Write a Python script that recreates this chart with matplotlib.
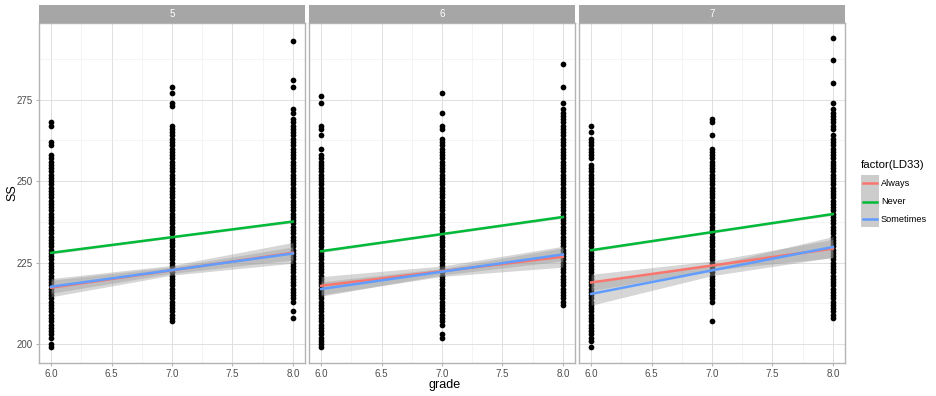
import numpy as np
import matplotlib
matplotlib.use("Agg")
import matplotlib.pyplot as plt
from matplotlib.patches import Rectangle
from matplotlib.lines import Line2D

plt.rcParams["font.family"] = ["Liberation Sans", "DejaVu Sans"]

# ---- data ----
facets = ["5", "6", "7"]
grades = [6.0, 7.0, 8.0]

# dense block of integer SS scores per facet / grade (lo, hi)
dense_lo = [[202, 209, 213], [199, 208, 212], [201, 214, 208]]
dense_hi = [[258, 267, 269], [258, 263, 272], [255, 260, 264]]
# isolated scores outside the dense block
outliers = [
    [[199, 200, 261, 262, 267, 268], [207, 208, 273, 274, 277, 279], [208, 210, 271, 272, 279, 281, 293]],
    [[260, 264, 266, 267, 274, 276], [202, 203, 206, 207, 266, 267, 271, 277], [274, 279, 286]],
    [[199, 257, 258, 259, 260, 261, 262, 263, 265, 267], [207, 213, 264, 268, 269],
     [266, 267, 268, 269, 270, 271, 272, 274, 280, 287, 294]],
]

groups = ["Always", "Never", "Sometimes"]
group_colors = ["#F8766D", "#00BA38", "#619CFF"]
# fitted SS at grade 6 and grade 8, per facet
always_fit = [[217.3, 228.0], [217.9, 226.8], [218.9, 229.3]]
never_fit = [[228.0, 237.6], [228.5, 239.0], [228.8, 239.9]]
sometimes_fit = [[217.6, 227.8], [216.9, 227.5], [215.4, 229.8]]
# half width of confidence band at grade 6, 7, 8
always_se = [[2.8, 1.5, 3.2], [2.8, 1.6, 3.2], [2.5, 1.4, 2.8]]
never_se = [[0.4, 0.3, 0.4], [0.4, 0.3, 0.4], [0.4, 0.3, 0.4]]
sometimes_se = [[2.0, 1.0, 2.0], [2.2, 1.0, 2.0], [3.5, 1.6, 3.2]]

fits = [always_fit, never_fit, sometimes_fit]
ses = [always_se, never_se, sometimes_se]

# ---- figure ----
W, H = 936, 396
fig = plt.figure(figsize=(W / 100, H / 100), dpi=100)

def fx(px):
    return px / W

def fy(py):
    return 1 - py / H

panel_left = [39, 309, 579]
panel_w = 266
panel_top, panel_bot = 23, 363
strip_top = 5

border_col = "#B3B3B3"
grid_col = "#E0E0E0"
text_col = "#4D4D4D"

for i, fac in enumerate(facets):
    ax = fig.add_axes([fx(panel_left[i]), fy(panel_bot), fx(panel_w), (panel_bot - panel_top) / H])
    ax.set_xlim(5.9, 8.1)
    ax.set_ylim(194.2, 298.5)
    ax.set_xticks([6.0, 6.5, 7.0, 7.5, 8.0])
    ax.set_xticklabels(["6.0", "6.5", "7.0", "7.5", "8.0"])
    ax.set_xticks([6.25, 6.75, 7.25, 7.75], minor=True)
    ax.set_yticks([200, 225, 250, 275])
    ax.set_yticks([212.5, 237.5, 262.5, 287.5], minor=True)
    ax.grid(True, which="major", color=grid_col, linewidth=0.7, zorder=0)
    ax.grid(True, which="minor", color="#F0F0F0", linewidth=0.5, zorder=0)
    ax.set_axisbelow(True)
    for s in ax.spines.values():
        s.set_color(border_col)
        s.set_linewidth(1.0)
    ax.tick_params(which="both", length=0, labelsize=7, colors=text_col, pad=2)
    ax.tick_params(axis="both", which="major", length=2.5, color=border_col)
    if i > 0:
        ax.set_yticklabels([])
        ax.tick_params(axis="y", which="major", length=0)

    # points
    for j, g in enumerate(grades):
        vals = list(np.arange(dense_lo[i][j], dense_hi[i][j] + 1)) + outliers[i][j]
        ax.scatter([g] * len(vals), vals, s=17, color="black", linewidths=0, zorder=2)

    # confidence bands then lines
    for k in range(len(groups)):
        lo6, hi8 = fits[k][i]
        mid = (lo6 + hi8) / 2
        centre = np.array([lo6, mid, hi8])
        half = np.array(ses[k][i])
        ax.fill_between(grades, centre - half, centre + half, color="#999999",
                        alpha=0.4, linewidth=0, zorder=3)
    for k in range(len(groups)):
        ax.plot([6.0, 8.0], fits[k][i], color=group_colors[k], linewidth=1.8, zorder=4)

    # strip
    sax = fig.add_axes([fx(panel_left[i]), fy(panel_top), fx(panel_w), (panel_top - strip_top) / H])
    sax.set_facecolor("#A6A6A6")
    sax.set_xticks([])
    sax.set_yticks([])
    for s in sax.spines.values():
        s.set_visible(False)
    sax.text(0.5, 0.5, fac, color="white", fontsize=7, ha="center", va="center",
             transform=sax.transAxes)

fig.text(fx(12), fy(193), "SS", rotation=90, fontsize=9, ha="center", va="center", color="black")
fig.text(fx(445), fy(385), "grade", fontsize=9, ha="center", va="center", color="black")

# legend
fig.text(fx(861), fy(165), "factor(LD33)", fontsize=8.2, ha="left", va="center", color="black")
fig.patches.append(Rectangle((fx(861), fy(227)), fx(18), (227 - 175) / H,
                             transform=fig.transFigure, facecolor="#CCCCCC",
                             edgecolor="none"))
key_y = [183.3, 201.5, 219.3]
for k, lab in enumerate(groups):
    fig.lines.append(Line2D([fx(862.5), fx(877)], [fy(key_y[k]), fy(key_y[k])],
                            transform=fig.transFigure, color=group_colors[k], linewidth=1.8))
    fig.text(fx(881), fy(key_y[k]), lab, fontsize=6.6, ha="left", va="center", color="black")

fig.savefig("out.png", dpi=100)
